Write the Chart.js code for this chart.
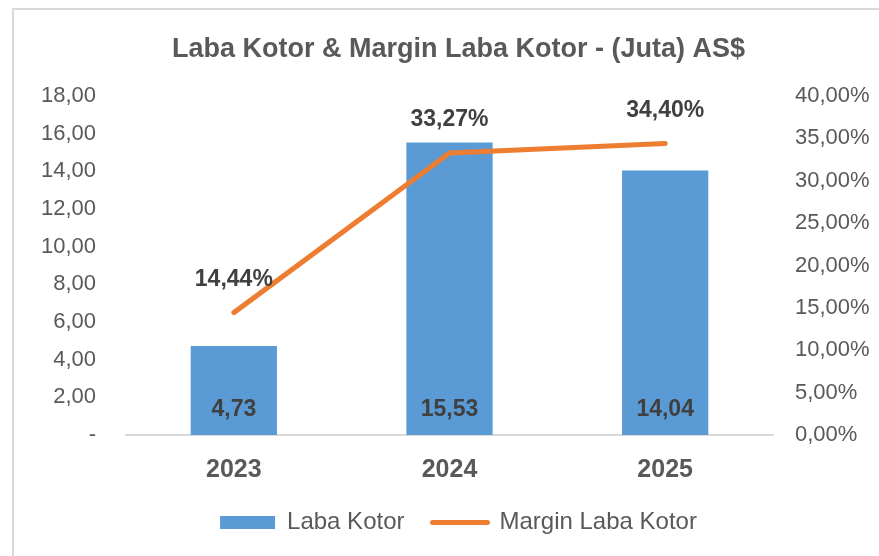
<!DOCTYPE html>
<html lang="id">
<head>
<meta charset="UTF-8">
<title>Laba Kotor & Margin Laba Kotor</title>
<script src="https://cdn.jsdelivr.net/npm/chart.js"></script>
<style>
    body { margin: 0; background: #fff; }
    .kotak { position: relative; width: 879px; height: 556px; overflow: hidden; }
    .bingkai { position: absolute; left: 12px; top: 8px; right: 0; bottom: 0;
               border-left: 2px solid #d9d9d9; border-top: 2px solid #d9d9d9; }
    canvas { position: absolute; left: 0; top: 0; }
</style>
</head>
<body>
<div class="kotak">
    <div class="bingkai"></div>
    <canvas id="grafik" width="879" height="556"></canvas>
</div>

<script>
    // data dari grafik
    var tahun = ['2023', '2024', '2025'];
    var labaKotor = [4.73, 15.53, 14.04];
    var marginLaba = [14.44, 33.27, 34.40];

    var fonte = '"Liberation Sans", Arial, sans-serif';
    var cinza = '#595959';

    function fmt(v, d) {
        return v.toFixed(d).replace('.', ',');
    }

    // rotulos de dados (valores nas barras e na linha)
    const rotuloPlugin = {
        id: 'rotulo',
        afterDatasetsDraw(chart) {
            const ctx = chart.ctx;
            ctx.save();
            ctx.font = 'bold 23px ' + fonte;
            ctx.fillStyle = '#404040';
            ctx.textAlign = 'center';
            ctx.textBaseline = 'middle';
            chart.getDatasetMeta(0).data.forEach((bar, i) => {
                ctx.fillText(fmt(labaKotor[i], 2), bar.x, bar.base - 25);
            });
            chart.getDatasetMeta(1).data.forEach((pt, i) => {
                ctx.fillText(fmt(marginLaba[i], 2) + '%', pt.x, pt.y - 33);
            });
            ctx.restore();
        }
    };

    const data = {
        labels: tahun,
        datasets: [{
            type: 'bar',
            label: 'Laba Kotor',
            data: labaKotor,
            backgroundColor: '#5B9BD5',
            borderWidth: 0,
            yAxisID: 'y',
            order: 1,
            barPercentage: 0.8,
            categoryPercentage: 0.5
        }, {
            type: 'line',
            label: 'Margin Laba Kotor',
            data: marginLaba,
            borderColor: '#ED7D31',
            backgroundColor: '#ED7D31',
            borderWidth: 5,
            borderCapStyle: 'round',
            pointRadius: 0,
            tension: 0,
            yAxisID: 'y1',
            order: 0
        }]
    };

    const config = {
        data: data,
        options: {
            responsive: false,
            animation: false,
            devicePixelRatio: 1,
            layout: { padding: { left: 38, right: 0, top: 0, bottom: 11.5 } },
            plugins: {
                title: {
                    display: true,
                    text: 'Laba Kotor & Margin Laba Kotor - (Juta) AS$',
                    color: cinza,
                    font: { family: fonte, size: 27, weight: 'bold' },
                    padding: { top: 33, bottom: 30.6 }
                },
                legend: {
                    position: 'bottom',
                    labels: {
                        usePointStyle: true,
                        pointStyleWidth: 55,
                        boxHeight: 13,
                        padding: 28,
                        color: cinza,
                        font: { family: fonte, size: 24 },
                        sort: (a, b) => a.datasetIndex - b.datasetIndex,
                        generateLabels: function (chart) {
                            var itens = Chart.defaults.plugins.legend.labels.generateLabels(chart);
                            itens.forEach(function (it) {
                                if (it.datasetIndex === 0) {
                                    it.pointStyle = 'rect';
                                    it.lineWidth = 0;
                                    it.fillStyle = '#5B9BD5';
                                    it.strokeStyle = '#5B9BD5';
                                } else {
                                    it.pointStyle = 'line';
                                    it.lineWidth = 5;
                                    it.lineCap = 'round';
                                    it.strokeStyle = '#ED7D31';
                                }
                            });
                            return itens;
                        }
                    }
                },
                tooltip: { enabled: false }
            },
            scales: {
                x: {
                    grid: { display: false, drawTicks: false },
                    border: { display: true, color: '#d9d9d9', width: 2 },
                    ticks: {
                        color: cinza,
                        font: { family: fonte, size: 25, weight: 'bold' },
                        padding: 20
                    },
                    afterFit: function (s) { s.height = 47.5; }
                },
                y: {
                    position: 'left',
                    min: 0,
                    max: 18,
                    grid: { display: false, drawTicks: false },
                    border: { display: false },
                    ticks: {
                        stepSize: 2,
                        padding: 30,
                        color: cinza,
                        font: { family: fonte, size: 22 },
                        callback: function (v) { return v === 0 ? '-' : fmt(v, 2); }
                    },
                    afterFit: function (s) { s.width = 88; }
                },
                y1: {
                    position: 'right',
                    min: 0,
                    max: 40,
                    grid: { display: false, drawTicks: false },
                    border: { display: false },
                    ticks: {
                        stepSize: 5,
                        padding: 22,
                        color: cinza,
                        font: { family: fonte, size: 22 },
                        callback: function (v) { return fmt(v, 2) + '%'; }
                    },
                    afterFit: function (s) { s.width = 106; }
                }
            }
        },
        plugins: [rotuloPlugin]
    };

    const grafico = new Chart(document.getElementById('grafik'), config);
</script>
</body>
</html>
